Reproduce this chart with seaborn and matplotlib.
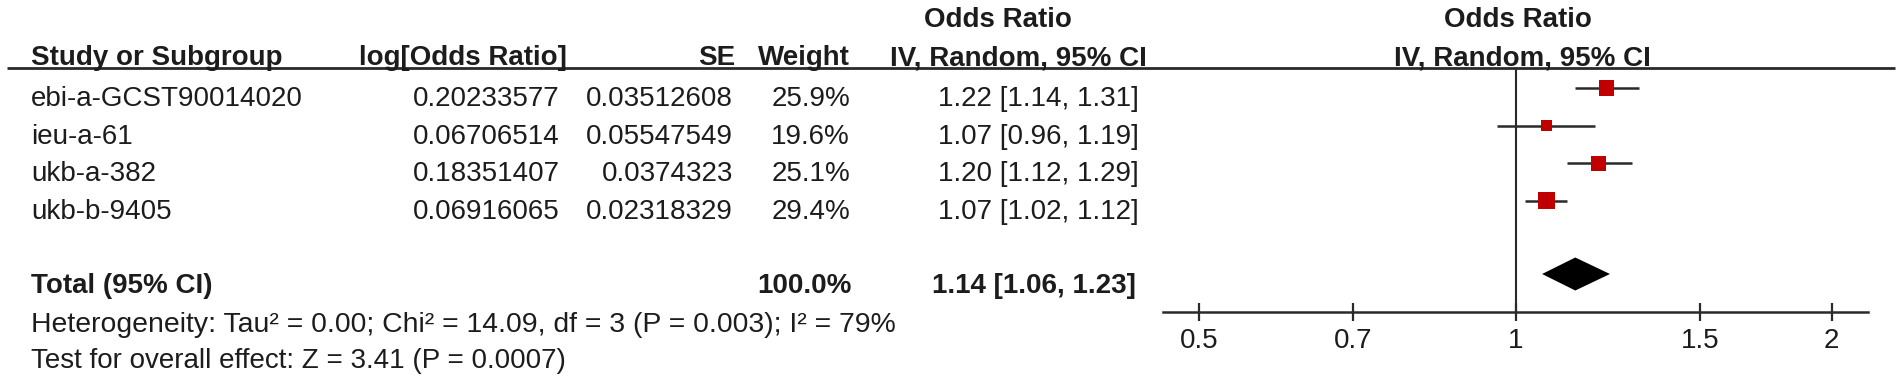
import numpy as np
import matplotlib
matplotlib.use("Agg")
import matplotlib.pyplot as plt
import seaborn as sns

# ---------------- data ----------------
studies = ["ebi-a-GCST90014020", "ieu-a-61", "ukb-a-382", "ukb-b-9405"]
log_or = ["0.20233577", "0.06706514", "0.18351407", "0.06916065"]
se = ["0.03512608", "0.05547549", "0.0374323", "0.02318329"]
weight = [25.9, 19.6, 25.1, 29.4]
or_est = [1.22, 1.07, 1.20, 1.07]
or_lo = [1.14, 0.96, 1.12, 1.02]
or_hi = [1.31, 1.19, 1.29, 1.12]
total_label = "Total (95% CI)"
total_weight = 100.0
total_est, total_lo, total_hi = 1.14, 1.06, 1.23
heterogeneity = "Heterogeneity: Tau\u00b2 = 0.00; Chi\u00b2 = 14.09, df = 3 (P = 0.003); I\u00b2 = 79%"
overall = "Test for overall effect: Z = 3.41 (P = 0.0007)"
ticks = [0.5, 0.7, 1, 1.5, 2]
tick_labels = ["0.5", "0.7", "1", "1.5", "2"]

# ---------------- style ----------------
sns.set_theme(style="white")
plt.rcParams["font.family"] = ["Liberation Sans", "DejaVu Sans"]
FS = 20
TXT = "#1c1c1c"
LINE = "#2a2a2a"

W, H = 1902, 383
fig = plt.figure(figsize=(W / 100, H / 100), dpi=100)
fig.patch.set_facecolor("white")

# background axes in pixel coordinates for the table
bg = fig.add_axes([0, 0, 1, 1])
bg.set_xlim(0, W)
bg.set_ylim(H, 0)
bg.axis("off")

# headers
bg.text(31, 65, "Study or Subgroup", fontsize=FS, fontweight="bold", color=TXT, va="baseline", ha="left")
bg.text(567, 65, "log[Odds Ratio]", fontsize=FS, fontweight="bold", color=TXT, va="baseline", ha="right")
bg.text(735, 65, "SE", fontsize=FS, fontweight="bold", color=TXT, va="baseline", ha="right")
bg.text(850, 65, "Weight", fontsize=FS, fontweight="bold", color=TXT, va="baseline", ha="right")
bg.text(998, 27, "Odds Ratio", fontsize=FS, fontweight="bold", color=TXT, va="baseline", ha="center")
bg.text(1018, 65, "IV, Random, 95% CI", fontsize=FS, fontweight="bold", color=TXT, va="baseline", ha="center")
bg.text(1518, 27, "Odds Ratio", fontsize=FS, fontweight="bold", color=TXT, va="baseline", ha="center")
bg.text(1522, 65, "IV, Random, 95% CI", fontsize=FS, fontweight="bold", color=TXT, va="baseline", ha="center")
bg.plot([7, 1895], [68, 68], color=LINE, lw=2.0, solid_capstyle="butt")

# rows
row_step = 37.6
graph_y = [88 + row_step * i for i in range(len(studies))]
for i, y in enumerate(graph_y):
    base = y + 18
    bg.text(31, base, studies[i], fontsize=FS, color=TXT, va="baseline", ha="left")
    bg.text(560, base, log_or[i], fontsize=FS, color=TXT, va="baseline", ha="right")
    bg.text(733, base, se[i], fontsize=FS, color=TXT, va="baseline", ha="right")
    bg.text(850, base, f"{weight[i]:.1f}%", fontsize=FS, color=TXT, va="baseline", ha="right")
    bg.text(1139, base, f"{or_est[i]:.2f} [{or_lo[i]:.2f}, {or_hi[i]:.2f}]", fontsize=FS,
            color=TXT, va="baseline", ha="right")

total_y = 274
tb = total_y + 19
bg.text(31, tb, total_label, fontsize=FS, fontweight="bold", color=TXT, va="baseline", ha="left")
bg.text(852, tb, f"{total_weight:.1f}%", fontsize=FS, fontweight="bold", color=TXT, va="baseline", ha="right")
bg.text(1136, tb, f"{total_est:.2f} [{total_lo:.2f}, {total_hi:.2f}]", fontsize=FS,
        fontweight="bold", color=TXT, va="baseline", ha="right")
bg.text(31, 332, heterogeneity, fontsize=FS + 0.4, color=TXT, va="baseline", ha="left")
bg.text(31, 368, overall, fontsize=FS, color=TXT, va="baseline", ha="left")

# forest axes
x0, x1 = 1163, 1868
y_top, y_axis = 68, 312
ax = fig.add_axes([x0 / W, 1 - y_axis / H, (x1 - x0) / W, (y_axis - y_top) / H])
ax.set_facecolor("none")
ax.set_xscale("log")
ax.set_xlim(0.4616, 2.166)
ax.set_ylim(y_axis, y_top)
for s in ["top", "left", "right"]:
    ax.spines[s].set_visible(False)
ax.spines["bottom"].set_color(LINE)
ax.spines["bottom"].set_linewidth(1.8)
ax.set_xticks(ticks)
ax.set_xticklabels(tick_labels)
ax.minorticks_off()
ax.tick_params(axis="x", direction="inout", length=13.5, width=1.6, color=LINE,
               labelsize=FS, labelcolor=TXT, pad=5, bottom=True)
ax.set_yticks([])
ax.axvline(1, color=LINE, lw=1.5, zorder=1)

# CI lines
ax.hlines(graph_y, or_lo, or_hi, color=LINE, lw=1.8, zorder=2)
# squares sized by weight
side_pt = [0.59 * w * 0.72 for w in weight]
sns.scatterplot(x=or_est, y=graph_y, marker="s", s=[p ** 2 for p in side_pt],
                color="#C00000", linewidth=0, ax=ax, zorder=3, legend=False)
# diamond
hh = 16.5
ax.fill([total_lo, total_est, total_hi, total_est],
        [total_y, total_y - hh, total_y, total_y + hh], color="black", lw=0, zorder=3)

fig.savefig("out.png", dpi=100, facecolor="white")
